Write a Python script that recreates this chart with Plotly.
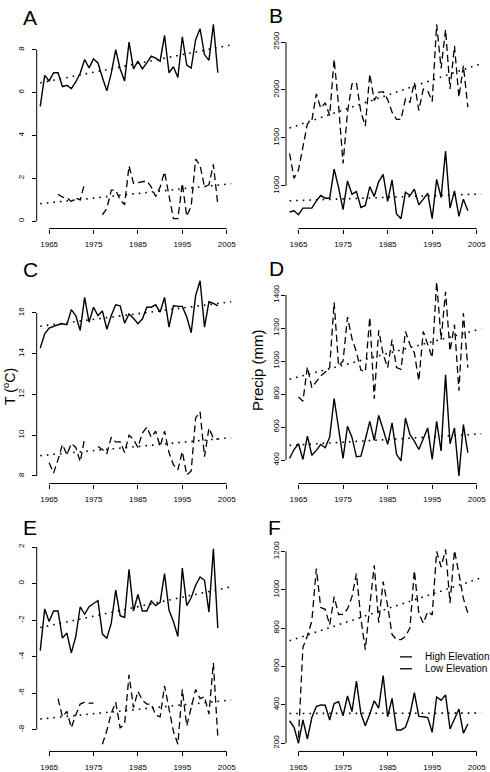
import plotly.graph_objects as go

# ---------------- data ----------------
years = list(range(1963, 2004))
trend_years = [1963, 2006]
x_ticks = [1965, 1975, 1985, 1995, 2005]

A_low = [5.35, 6.8, 6.54, 6.92, 6.92, 6.28, 6.34, 6.18, 6.5, 6.9,
         7.54, 7.15, 7.57, 7.38, 6.7, 6.08, 6.9, 8.0, 7.1, 6.54,
         8.35, 7.1, 7.46, 7.1, 7.38, 7.7, 7.6, 7.46, 8.66, 6.92,
         7.2, 6.7, 8.6, 7.28, 7.14, 8.46, 8.97, 7.77, 7.5, 9.18, 6.92]
A_high = [None, None, None, None, 1.26, 1.12, 1.1, 0.92, 1.08, 1.0,
          1.77, None, None, None, 0.3, 0.6, 1.45, 1.45, 1.0, 0.77,
          2.58, 1.77, 1.8, 1.85, 1.88, 1.6, 1.15, 1.6, 2.3, 1.2,
          0.12, 0.12, 1.77, 0.23, 0.7, 2.9, 2.6, 1.6, 1.7, 2.65, 0.77]
A_trend_low = [6.45, 8.22]
A_trend_high = [0.82, 1.75]
A_ticks = [0, 2, 4, 6, 8]

B_low = [728, 741, 700, 769, 769, 769, 845, 900, 872, 872,
         1176, 983, 752, 1052, 914, 941, 776, 797, 993, 890,
         1045, 1121, 838, 1062, 707, 659, 934, 900, 966, 803,
         862, 924, 659, 1069, 879, 1362, 769, 948, 683, 862, 741]
B_high = [1338, 1079, 1166, 1390, 1648, 1683, 1959, 1810, 1866, 1734,
          2321, 1838, 1234, 1769, 2062, 2079, 1769, 1624, 2166, 1890,
          1976, 1983, 1900, 1769, 1693, 1693, 1907, 1872, 2079, 1786,
          2010, 1993, 1879, 2683, 2224, 2631, 2010, 2459, 1924, 2252, 1821]
B_trend_low = [845, 916]
B_trend_high = [1603, 2275]
B_ticks = [1000, 1500, 2000, 2500]

C_low = [14.28, 14.98, 15.26, 15.35, 15.42, 15.47, 15.42, 16.16, 15.87, 15.14,
         16.76, 15.55, 16.28, 15.87, 16.1, 15.2, 15.87, 16.4, 16.35, 15.5,
         15.95, 15.74, 15.47, 15.7, 16.28, 16.28, 16.4, 16.04, 16.76, 15.3,
         16.35, 16.32, 16.32, 15.8, 15.03, 16.85, 17.58, 15.3, 16.55, 16.47, 16.35]
C_high = [None, None, 8.65, 8.15, 8.8, 9.55, 9.05, 9.6, 9.4, 8.7,
          9.85, None, None, 9.45, 9.3, 9.1, 9.9, 9.67, 9.67, 9.15,
          10.0, 9.8, 9.4, 10.1, 10.4, 9.9, 10.2, 9.45, 10.2, 9.15,
          8.55, 8.3, 9.2, 8.05, 8.25, 10.85, 11.15, 8.95, 10.35, 9.85, 9.8]
C_trend_low = [15.35, 16.55]
C_trend_high = [9.0, 9.88]
C_ticks = [8, 10, 12, 14, 16]

D_low = [410, 464, 499, 404, 545, 429, 459, 495, 475, 539,
         772, 575, 410, 605, 539, 420, 424, 525, 635, 519,
         671, 585, 495, 625, 435, 395, 655, 555, 515, 464,
         535, 595, 404, 635, 455, 916, 499, 595, 304, 615, 445]
D_high = [None, None, 782, 757, 965, 839, 875, 910, 933, 960,
          1356, 970, 1000, 1266, 1136, 1055, 945, 935, 1266, 772,
          1186, 1040, 960, 1130, 960, 950, 1180, 1100, 1050, 880,
          1180, 1100, 1020, 1480, 1130, 1420, 1060, 1220, 820, 1290, 960]
D_trend_low = [489, 559]
D_trend_high = [890, 1195]
D_ticks = [400, 600, 800, 1000, 1200, 1400]

E_low = [-3.67, -1.39, -2.08, -1.5, -1.5, -2.99, -2.71, -3.8, -2.9, -1.27,
         -1.68, -1.27, -1.09, -0.94, -2.77, -2.99, -2.17, -0.36, -1.76, -1.86,
         0.78, -1.5, -0.6, -1.5, -1.5, -0.96, -1.21, -1.03, 0.54, -1.45,
         -2.08, -2.9, 0.85, -1.21, -0.78, -0.09, 0.36, 0.18, -1.57, 1.9, -2.44]
E_high = [None, None, None, None, -6.3, -7.3, -7.0, -7.9, -7.2, -6.6,
          -6.5, -6.55, -6.55, None, -8.8, -8.05, -7.1, -6.5, -7.9, -7.7,
          -5.0, -6.8, -5.9, -6.4, -6.6, -6.6, -7.2, -7.3, -5.6, -6.8,
          -8.1, -8.8, -5.8, -7.8, -6.8, -5.8, -6.3, -6.2, -7.15, -4.35, -8.4]
E_trend_low = [-2.41, -0.18]
E_trend_high = [-7.42, -6.38]
E_ticks = [-8, -6, -4, -2, 0, 2]

F_low = [317, 283, 200, 322, 222, 334, 391, 400, 398, 321,
         407, 417, 343, 446, 365, 524, 355, 291, 352, 421,
         383, 552, 338, 434, 269, 269, 283, 348, 464, 340,
         338, 334, 257, 441, 424, 452, 274, 326, 378, 252, 300]
F_high = [None, None, 230, 700, 760, 838, 1110, 907, 898, 817,
          964, 871, 872, 900, 964, 1084, 850, 688, 917, 1128,
          828, 1043, 917, 767, 740, 740, 757, 800, 1100, 878,
          826, 886, 869, 1200, 1119, 1210, 931, 1205, 1084, 955, 878]
F_trend_low = [355, 357]
F_trend_high = [734, 1062]
F_ticks = [200, 400, 600, 800, 1000, 1200]

panel_labels = ["A", "B", "C", "D", "E", "F"]
legend_names = ["High Elevation", "Low Elevation"]

# ---------------- layout geometry (pixels) ----------------
W, H = 490, 772
col_px = [(36.7, 237.8), (286.0, 487.9)]
row_px = [(18.0, 227.3), (276.0, 484.3), (545.0, 754.3)]
x_range = [1962.2, 2007.5]
y_ranges = [[-0.34, 9.341], [556, 2720.3],
            [7.63, 17.77], [258, 1510],
            [-9.196, 2.18], [157, 1240]]
ytick_standoff = [5, -1]
label_pos = [(29.7, 14.5), (276, 12.5), (30.3, 268.3), (276, 268), (29.7, 528.3), (274, 528.3)]

FONT = "Liberation Sans, Arial, Helvetica, sans-serif"


def px(x):
    return x / W


def py(y):
    return 1 - y / H


panels = [
    (A_low, A_high, A_trend_low, A_trend_high, A_ticks),
    (B_low, B_high, B_trend_low, B_trend_high, B_ticks),
    (C_low, C_high, C_trend_low, C_trend_high, C_ticks),
    (D_low, D_high, D_trend_low, D_trend_high, D_ticks),
    (E_low, E_high, E_trend_low, E_trend_high, E_ticks),
    (F_low, F_high, F_trend_low, F_trend_high, F_ticks),
]

DASH = "7px,4px"
DOT = "1.6px,5px"

fig = go.Figure()
layout = dict(
    width=W, height=H, margin=dict(l=0, r=0, t=0, b=0),
    paper_bgcolor="white", plot_bgcolor="white",
    font=dict(family=FONT, color="black"),
    shapes=[], annotations=[], showlegend=False,
)

black = "black"
for i, (low, high, tlow, thigh, yt) in enumerate(panels):
    n = i + 1
    sfx = "" if n == 1 else str(n)
    xa, ya = "x" + sfx, "y" + sfx
    r, c = divmod(i, 2)

    fig.add_trace(go.Scatter(x=years, y=high, mode="lines", xaxis=xa, yaxis=ya,
                             name=legend_names[0], connectgaps=False,
                             line=dict(color=black, width=1.3, dash=DASH)))
    fig.add_trace(go.Scatter(x=years, y=low, mode="lines", xaxis=xa, yaxis=ya,
                             name=legend_names[1],
                             line=dict(color=black, width=1.4)))
    for t in (tlow, thigh):
        fig.add_trace(go.Scatter(x=trend_years, y=t, mode="lines", xaxis=xa, yaxis=ya,
                                 hoverinfo="skip",
                                 line=dict(color=black, width=1.6, dash=DOT)))

    x0, x1 = col_px[c]
    y0, y1 = row_px[r]
    common = dict(showgrid=False, zeroline=False, showline=False,
                  ticks="outside", ticklen=4, tickwidth=1, tickcolor=black,
                  tickfont=dict(size=8, family=FONT, color=black))
    layout["xaxis" + sfx] = dict(domain=[px(x0), px(x1)], range=x_range,
                                 anchor=ya, tickvals=x_ticks,
                                 ticktext=[str(v) for v in x_ticks],
                                 ticklabelstandoff=4, **common)
    layout["yaxis" + sfx] = dict(domain=[py(y1), py(y0)], range=y_ranges[i],
                                 anchor=xa, tickvals=yt,
                                 ticktext=[str(v) for v in yt],
                                 tickangle=-90, ticklabelstandoff=ytick_standoff[c], **common)
    # R-style axis lines spanning first to last tick
    layout["shapes"].append(dict(type="line", xref=xa, yref=ya + " domain",
                                 x0=x_ticks[0], x1=x_ticks[-1], y0=0, y1=0,
                                 line=dict(color=black, width=1)))
    layout["shapes"].append(dict(type="line", xref=xa + " domain", yref=ya,
                                 x0=0, x1=0, y0=yt[0], y1=yt[-1],
                                 line=dict(color=black, width=1)))
    lx, ly = label_pos[i]
    layout["annotations"].append(dict(text=panel_labels[i], xref="paper", yref="paper",
                                      x=px(lx), y=py(ly), showarrow=False,
                                      xanchor="center", yanchor="middle",
                                      font=dict(size=21, family=FONT, color=black)))

layout["annotations"].append(dict(text="T (<sup>o</sup>C)", xref="paper", yref="paper",
                                  x=px(9), y=py(387), showarrow=False, textangle=-90,
                                  xanchor="center", yanchor="middle",
                                  font=dict(size=14, family=FONT, color=black)))
layout["annotations"].append(dict(text="Precip (mm)", xref="paper", yref="paper",
                                  x=px(257), y=py(370), showarrow=False, textangle=-90,
                                  xanchor="center", yanchor="middle",
                                  font=dict(size=15, family=FONT, color=black)))

# legend (R-style, inside panel F)
leg_rows = [(legend_names[0], "12px,4px", 659), (legend_names[1], "solid", 671)]
for name, dash, yy in leg_rows:
    layout["shapes"].append(dict(type="line", xref="paper", yref="paper",
                                 x0=px(400), x1=px(412), y0=py(yy), y1=py(yy),
                                 line=dict(color=black, width=1.3, dash=dash)))
    layout["annotations"].append(dict(text=name, xref="paper", yref="paper",
                                      x=px(423), y=py(yy), showarrow=False,
                                      xanchor="left", yanchor="middle",
                                      font=dict(size=10, family=FONT, color=black)))

fig.update_layout(**layout)
fig.write_html("out.html",
               config={"displayModeBar": False},
               post_script="document.body.style.margin='0';document.body.style.padding='0';")
